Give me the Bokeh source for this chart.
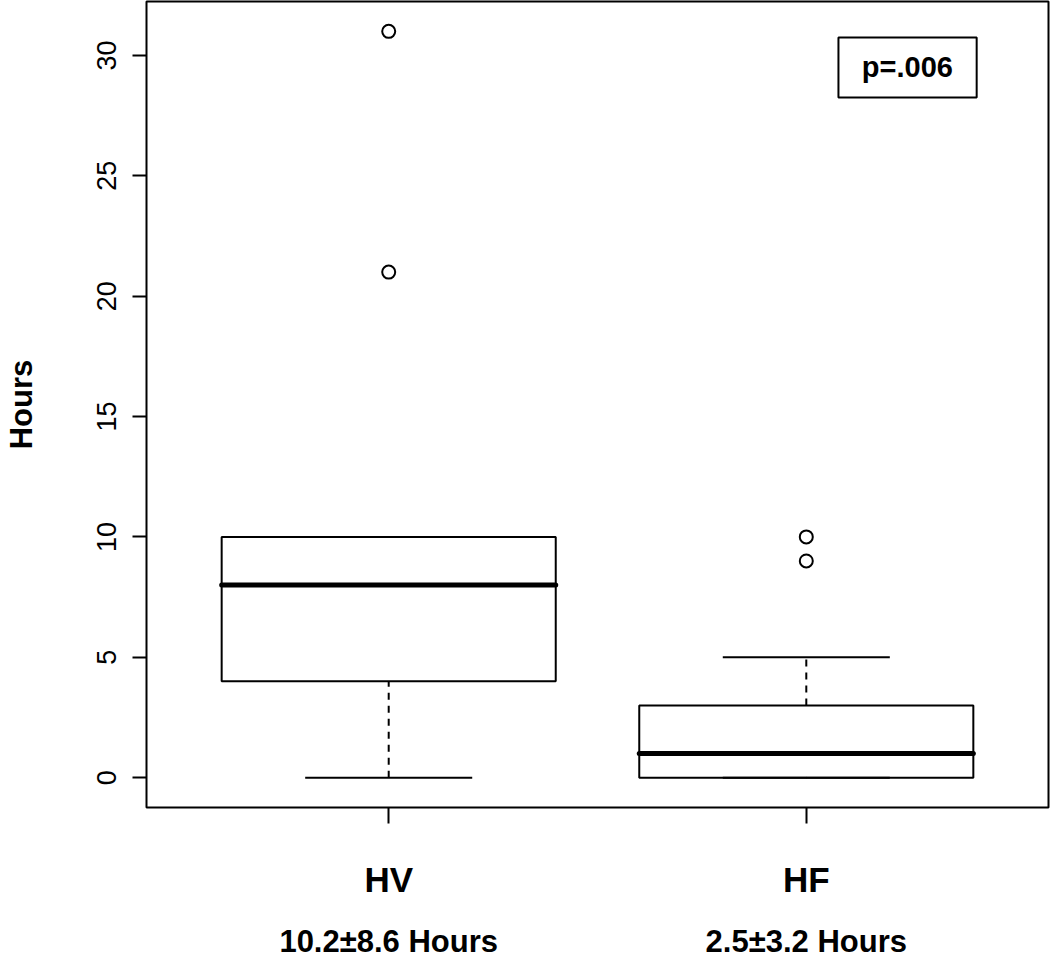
from bokeh.plotting import figure
from bokeh.models import Range1d, FixedTicker, LinearAxis, BoxAnnotation, Label
from bokeh.embed import file_html
from bokeh.resources import INLINE

# ---- data ----
categories = ["HV", "HF"]
stats_text = ["10.2\u00b18.6 Hours", "2.5\u00b13.2 Hours"]
q1 = [4, 0]
median = [8, 1]
q3 = [10, 3]
whisker_lo = [0, 0]
whisker_hi = [10, 5]
outlier_group = [1, 1, 2, 2]
outlier_value = [31, 21, 10, 9]
y_ticks = [0, 5, 10, 15, 20, 25, 30]
p_value_text = "p=.006"

xs = [i + 1 for i in range(len(categories))]
box_half = 0.4
cap_half = 0.2

FONT = "Liberation Sans"

p = figure(width=1050, height=963, output_backend="svg", toolbar_location=None,
           x_range=Range1d(0.42, 2.58), y_range=Range1d(-1.24, 32.24),
           min_border_left=146, min_border_right=2, min_border_top=1,
           min_border_bottom=156)
p.xgrid.visible = False
p.ygrid.visible = False
p.outline_line_color = "black"
p.outline_line_width = 2
p.background_fill_color = "white"
p.border_fill_color = "white"

# whiskers (dashed)
p.segment(x0=xs, x1=xs, y0=q3, y1=whisker_hi, line_color="black", line_width=2, line_dash="7 6")
p.segment(x0=xs, x1=xs, y0=whisker_lo, y1=q1, line_color="black", line_width=2, line_dash="7 6")
# caps
p.segment(x0=[x - cap_half for x in xs], x1=[x + cap_half for x in xs], y0=whisker_hi, y1=whisker_hi,
          line_color="black", line_width=2)
p.segment(x0=[x - cap_half for x in xs], x1=[x + cap_half for x in xs], y0=whisker_lo, y1=whisker_lo,
          line_color="black", line_width=2)
# boxes
p.quad(left=[x - box_half for x in xs], right=[x + box_half for x in xs], bottom=q1, top=q3,
       fill_color=None, line_color="black", line_width=2)
# medians
p.segment(x0=[x - box_half for x in xs], x1=[x + box_half for x in xs], y0=median, y1=median,
          line_color="black", line_width=5, line_cap="round")
# outliers
p.scatter(x=outlier_group, y=outlier_value, marker="circle", size=13, fill_color=None,
          line_color="black", line_width=2)

# y axis
ya = p.yaxis[0]
ya.ticker = FixedTicker(ticks=y_ticks)
ya.axis_line_color = None
ya.major_tick_in = 0
ya.major_tick_out = 14
ya.major_tick_line_width = 2
ya.major_tick_line_color = "black"
ya.minor_tick_line_color = None
ya.major_label_orientation = "vertical"
ya.major_label_text_font = FONT
ya.major_label_text_font_size = "27px"
ya.major_label_text_color = "black"
ya.major_label_standoff = 16
ya.axis_label = "Hours"
ya.axis_label_text_font = FONT
ya.axis_label_text_font_style = "bold"
ya.axis_label_text_font_size = "31px"
ya.axis_label_text_color = "black"
ya.axis_label_standoff = 56

# x axis (categories)
xa = p.xaxis[0]
xa.ticker = FixedTicker(ticks=xs)
xa.major_label_overrides = {x: c for x, c in zip(xs, categories)}
xa.axis_line_color = None
xa.major_tick_in = 0
xa.major_tick_out = 16
xa.major_tick_line_width = 2
xa.major_tick_line_color = "black"
xa.minor_tick_line_color = None
xa.major_label_text_font = FONT
xa.major_label_text_font_style = "bold"
xa.major_label_text_font_size = "35px"
xa.major_label_text_color = "black"
xa.major_label_standoff = 36

# second x axis with the summary statistics
xa2 = LinearAxis(ticker=FixedTicker(ticks=xs),
                 major_label_overrides={x: s for x, s in zip(xs, stats_text)})
xa2.axis_line_color = None
xa2.major_tick_line_color = None
xa2.minor_tick_line_color = None
xa2.major_tick_in = 0
xa2.major_tick_out = 0
xa2.major_label_text_font = FONT
xa2.major_label_text_font_style = "bold"
xa2.major_label_text_font_size = "31px"
xa2.major_label_text_color = "black"
xa2.major_label_standoff = 22
p.add_layout(xa2, "below")

# p-value box (legend-like)
p.add_layout(BoxAnnotation(left=2.077, right=2.408, top=30.74, bottom=28.25,
                           fill_color="white", fill_alpha=1.0, line_color="black",
                           line_alpha=1.0, line_width=2))
p.add_layout(Label(x=2.242, y=29.50, text=p_value_text, text_align="center", text_baseline="middle",
                   text_font=FONT, text_font_style="bold", text_font_size="29px", text_color="black"))

open("out.html", "w").write(file_html(p, INLINE))
